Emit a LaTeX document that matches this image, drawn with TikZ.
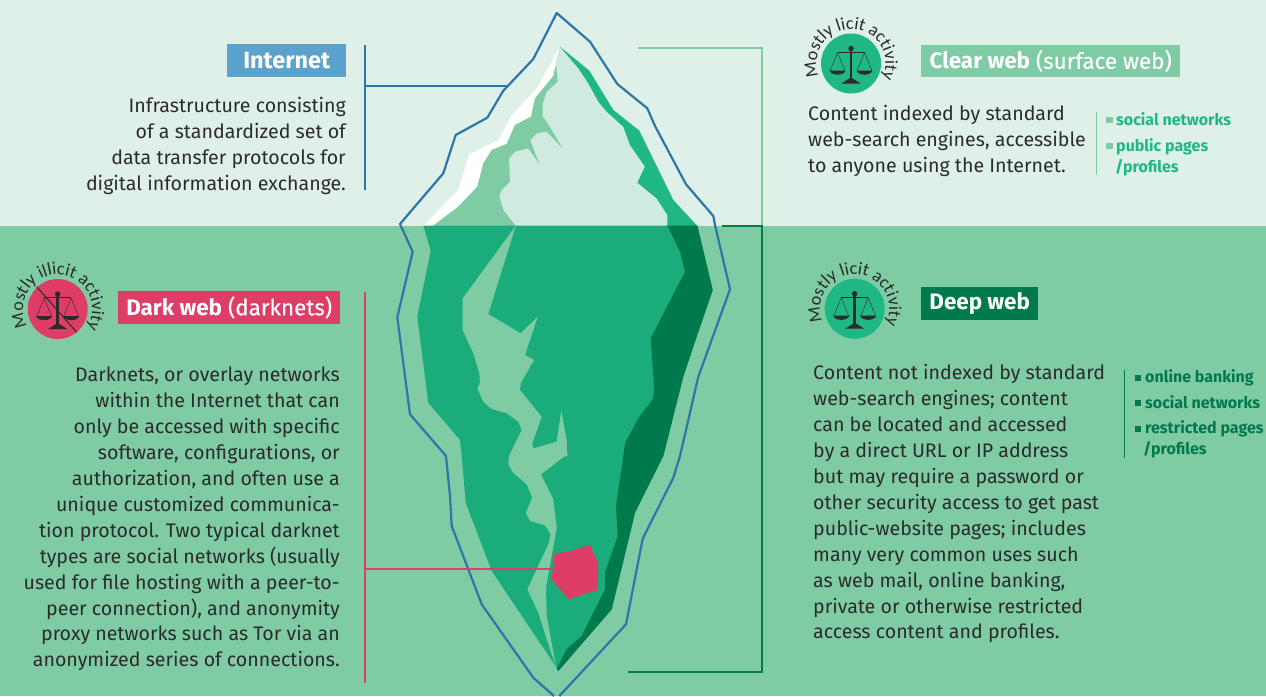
\documentclass[tikz,border=0pt]{standalone}
\usepackage{fontspec}
\setmainfont{Fira Sans}
\newfontfamily\medfont[FakeBold=0.25]{Fira Sans}
\newfontfamily\arcfont{Carlito}
\usetikzlibrary{decorations.text}
\definecolor{skybg}{HTML}{DFF0E9}
\definecolor{seabg}{HTML}{7FCBA4}
\definecolor{icepale}{HTML}{CFEADF}
\definecolor{midgreen}{HTML}{1FB783}
\definecolor{bodygreen}{HTML}{1AAD7B}
\definecolor{deepgreen}{HTML}{007A4D}
\definecolor{outlineblue}{HTML}{2C77A8}
\definecolor{boxblue}{HTML}{5BA3CC}
\definecolor{darkpink}{HTML}{DD3D66}
\definecolor{ink}{HTML}{2B2B2B}
\tikzset{
  labelbox/.style={inner sep=0pt,minimum height=32.5pt,anchor=north west,text=white,font=\fontsize{22.4}{24}\selectfont},
  bodytext/.style={inner sep=0pt,text=ink,font=\fontsize{19.6}{25.9}\selectfont},
  bullettext/.style={inner sep=0pt,anchor=base west,font=\fontsize{16}{18}\selectfont\bfseries},
  leader/.style={line width=2pt},
}
\newcommand{\scalesicon}[3]{%
  \begin{scope}[shift={(#1,#2)}]
    \fill[#3] (0,0) circle[radius=30];
    \fill[ink] (0,-15) circle[radius=2.7];
    \fill[ink] (-1.4,-15) rectangle (1.4,16);
    \fill[ink] (-13.5,-11.6) rectangle (13.5,-10.6);
    \fill[ink] (-9.5,20) -- (0,14) -- (9.5,20) -- cycle;
    \draw[ink,line width=.4pt] (-13.5,-11) -- (-21,7.5) (-13.5,-11) -- (-6,7.5) (13.5,-11) -- (6,7.5) (13.5,-11) -- (21,7.5);
    \fill[ink] (-21.5,7) .. controls (-20,12.5) and (-7,12.5) .. (-5.5,7) -- cycle;
    \fill[ink] (21.5,7) .. controls (20,12.5) and (7,12.5) .. (5.5,7) -- cycle;
  \end{scope}}
\newcommand{\arctext}[5]{%
  \begin{scope}[shift={(#1,#2)},x=1pt,y=1pt]
    \path[decorate,decoration={text along path,text align=center,
      text={|\arcfont\fontsize{18}{20}\selectfont\color{ink}|#3}}]
      (#4:34.5) arc[start angle=#4,end angle=#5,radius=34.5];
  \end{scope}}
\begin{document}
\begin{tikzpicture}[x=1pt,y=-1pt]
\useasboundingbox (0,0) rectangle (1266,696);
\fill[skybg] (0,0) rectangle (1266,226);
\fill[seabg] (0,226) rectangle (1266,696);

% ---- ice above the water (zoom-1 coordinates)
\begin{scope}[shift={(390,0)},scale=1/3]
  \fill[icepale] (510,140) -- (598,212) -- (670,330) -- (748,392) -- (850,600) -- (922,678) -- (100,678) -- (205,568) -- (238,462) -- (325,420) -- (365,345) -- (440,265) -- cycle;
  \fill[white] (510,140) -- (440,265) -- (365,345) -- (325,420) -- (238,462) -- (205,568) -- (100,678) -- (128,678) -- (205,620) -- (262,560) -- (280,490) -- (305,450) -- (350,432) -- (375,375) -- (423,350) -- (435,295) -- (490,228) -- cycle;
  \fill[seabg] (510,140) -- (490,228) -- (435,295) -- (423,350) -- (375,375) -- (350,432) -- (305,450) -- (280,490) -- (262,560) -- (205,620) -- (128,678) -- (377,678) -- (340,630) -- (328,590) -- (333,572) -- (360,545) -- (357,475) -- (375,455) -- (415,445) -- (448,492) -- (420,420) -- (440,400) -- (470,395) -- (518,445) -- (470,365) -- (458,350) -- (458,312) -- (470,275) -- (503,245) -- (498,190) -- cycle;
  \fill[midgreen] (510,140) -- (598,212) -- (670,330) -- (748,392) -- (850,600) -- (922,678) -- (832,678) -- (832,645) -- (800,595) -- (742,548) -- (765,500) -- (720,435) -- (700,380) -- (650,335) -- (625,305) -- (595,250) -- (565,205) -- cycle;
\end{scope}

% ---- ice below the water
\fill[bodygreen] (423.3,225.5) -- (430.7,250.7) -- (417.3,316.7) -- (428.3,402.7) -- (460,440) -- (461.7,456) -- (465.7,502.7) -- (491.7,571) -- (556,666.7) -- (558.3,671) -- (611.7,609.3) -- (635,512.7) -- (663.3,456) -- (683.3,376.7) -- (693.3,346.7) -- (712.7,290) -- (697.3,225.5) -- cycle;
\fill[deepgreen] (667.3,225.5) -- (680,251.7) -- (685,271.7) -- (650.7,338.3) -- (654,386.7) -- (653.3,398.3) -- (638.3,418.3) -- (625,443.3) -- (623.3,456) -- (616,506) -- (617.7,536) -- (605,572.7) -- (605,589.3) -- (590,619.3) -- (581.7,636) -- (566.7,649.3) -- (556.7,668.7) -- (558.3,671) -- (611.7,609.3) -- (635,512.7) -- (663.3,456) -- (683.3,376.7) -- (693.3,346.7) -- (712.7,290) -- (697.3,225.5) -- cycle;
% crack
\fill[seabg] (515.7,226) -- (462.7,298.3) -- (462.7,330) -- (473.3,353.3) -- (479.3,373.3) -- (480,382.7) -- (477.3,388.3) -- (483.3,401.7) -- (491.7,409) -- (506.7,413.3) -- (518.3,421.7) -- (521.7,430) -- (509,456) -- (508.3,464.3) -- (513.3,472.7) -- (526.7,484.3) -- (532.3,497.7) -- (526,512.7) -- (530,521) -- (545,525.3) -- (550.7,534.3) -- (548.3,544.3) -- (527.3,589.3) -- (538.3,612.7) -- (546.7,639.3) -- (556,666.7) -- (546.7,616) -- (546,587.7) -- (556.7,527.7) -- (553.3,499.3) -- (541,474.3) -- (565,456) -- (567.7,456) -- (567,450) -- (566.7,440) -- (561.3,410.7) -- (556.7,441.7) -- (533.3,448.3) -- (532.3,443.3) -- (541.7,416.7) -- (520,390) -- (520.7,383.3) -- (534,360) -- (525,355) -- (537.7,316.7) -- (520.7,333.3) -- (488.3,314) -- cycle;
% red block
\fill[darkpink] (554.3,553.7) -- (569.3,551.3) -- (590,544.7) -- (598.3,563.3) -- (597.7,590) -- (568.3,599.3) -- (551.7,579.3) -- cycle;

% ---- outer outline
\draw[outlineblue,line width=2.2pt,line join=round] (533.3,59) -- (556.7,13) -- (590,41.7) -- (617.3,84) -- (647.3,108.3) -- (655,126) -- (686,184.3) -- (713.3,216) -- (715,225) -- (730,289.3) -- (698.3,376.7) -- (680,456) -- (673.3,477.7) -- (642.7,538.7) -- (626,624.3) -- (559.3,696);
\draw[outlineblue,line width=2.2pt,line join=round] (554,696) -- (533.3,677.7) -- (481.7,604.3) -- (451.7,526) -- (450,496) -- (446,456) -- (410,414.3) -- (397.3,317.3) -- (412.7,251.7) -- (400,224) -- (443.3,173.3) -- (455.7,135) -- (487.3,117.7) -- (503.3,90.7) -- (533.3,59);

% ---- leaders
\coordinate (intTop) at (364.5,45);
\coordinate (intBot) at (364.5,190);
\coordinate (intMid) at (364.5,85.7);
\coordinate (intEnd) at (507,85.7);
\draw[leader,outlineblue] (intTop) -- (intBot) (intMid) -- (intEnd);
\coordinate (clearA) at (638,48);
\coordinate (clearB) at (762,48);
\coordinate (clearC) at (762,226);
\draw[leader,seabg] (clearA) -- (clearB) -- (clearC);
\coordinate (deepA) at (722,226);
\coordinate (deepB) at (762,226);
\coordinate (deepC) at (762,672);
\coordinate (deepD) at (628,672);
\draw[leader,deepgreen] (deepA) -- (deepB) -- (deepC) -- (deepD);
\coordinate (darkTop) at (364.5,292);
\coordinate (darkBot) at (364.5,683);
\coordinate (darkMid) at (364.5,569.3);
\coordinate (darkEnd) at (552,569.3);
\draw[leader,darkpink] (darkTop) -- (darkBot) (darkMid) -- (darkEnd);

% ---- Internet
\node[labelbox,fill=boxblue,minimum width=119pt,align=center,font=\fontsize{23.4}{24}\selectfont] (internet) at (227,44) {\bfseries Internet};
\node[bodytext,anchor=north east,align=right] (internetBody) at (346,97) {Infrastructure consisting\\of a standardized set of\\data transfer protocols for\\digital information exchange.};

% ---- Clear web
\scalesicon{851}{63.5}{midgreen}
\arctext{851}{63.5}{Mostly licit activity}{221}{-45}
\node[labelbox,fill=seabg,minimum width=259pt,align=center] (clear) at (921,44.5) {\textbf{Clear web} {\medfont(surface web)}};
\node[bodytext,anchor=north west,align=left] (clearBody) at (808,105.5) {Content indexed by standard\\web-search engines, accessible\\to anyone using the Internet.};
\coordinate (clearRuleA) at (1096,112);
\coordinate (clearRuleB) at (1096,175);
\draw[seabg,line width=1pt] (clearRuleA) -- (clearRuleB);
\fill[seabg] (1106,116.5) rectangle (1113,123);
\node[bullettext,text=midgreen] (clearB1) at (1116,125) {social networks};
\fill[seabg] (1106,142.5) rectangle (1113,149);
\node[bullettext,text=midgreen] (clearB2) at (1116,151.5) {public pages};
\node[bullettext,text=midgreen] (clearB3) at (1115,172.5) {/profiles};

% ---- Deep web
\scalesicon{854.7}{308.7}{midgreen}
\arctext{854.7}{308.7}{Mostly licit activity}{221}{-45}
\node[labelbox,fill=deepgreen,minimum width=117pt,align=center] (deep) at (921,287) {\bfseries Deep web};
\node[bodytext,anchor=north west,align=left] (deepBody) at (813,364.5) {Content not indexed by standard\\web-search engines; content\\can be located and accessed\\by a direct URL or IP address\\but may require a password or\\other security access to get past\\public-website pages; includes\\many very common uses such\\as web mail, online banking,\\private or otherwise restricted\\access content and profiles.};
\coordinate (deepRuleA) at (1124.3,370);
\coordinate (deepRuleB) at (1124.3,458);
\draw[deepgreen,line width=1pt] (deepRuleA) -- (deepRuleB);
\fill[deepgreen] (1134.5,374.5) rectangle (1141,380.5);
\node[bullettext,text=deepgreen] (deepB1) at (1145,382.5) {online banking};
\fill[deepgreen] (1134.5,400) rectangle (1141,406);
\node[bullettext,text=deepgreen] (deepB2) at (1145,408) {social networks};
\fill[deepgreen] (1134.5,425.5) rectangle (1141,431.5);
\node[bullettext,text=deepgreen] (deepB3) at (1145,433.5) {restricted pages};
\node[bullettext,text=deepgreen] (deepB4) at (1143,454) {/profiles};

% ---- Dark web
\scalesicon{57.7}{309}{darkpink}
\draw[ink,line width=1pt] (36.7,286.7) -- (76.7,332.3);
\arctext{57.7}{309}{Mostly illicit activity}{225}{-48}
\node[labelbox,fill=darkpink,minimum width=222pt,align=center] (dark) at (118,291) {\textbf{Dark web} {\medfont(darknets)}};
\node[bodytext,anchor=north east,align=right] (darkBody) at (340,367) {Darknets, or overlay networks\\within the Internet that can\\only be accessed with specific\\software, configurations, or\\authorization, and often use a\\unique customized communica-\\tion protocol. Two typical darknet\\types are social networks (usually\\used for file hosting with a peer-to-\\peer connection), and anonymity\\proxy networks such as Tor via an\\anonymized series of connections.};
\end{tikzpicture}
\end{document}
